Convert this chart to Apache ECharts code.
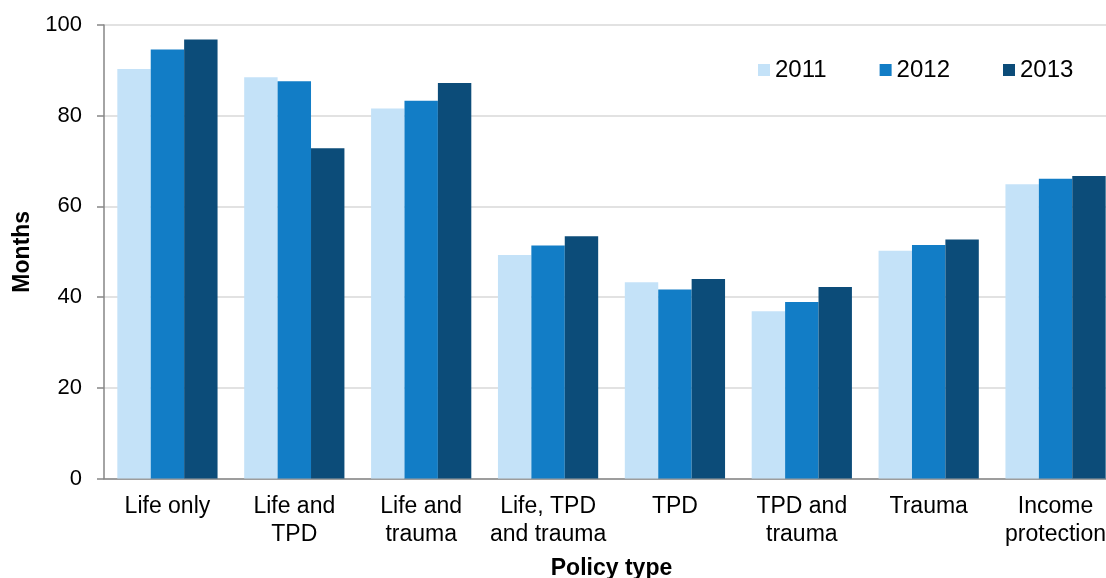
<!DOCTYPE html>
<html>
<head>
<meta charset="utf-8">
<script src="https://cdn.jsdelivr.net/npm/echarts@6/dist/echarts.min.js"></script>
<style>
  html, body { margin: 0; padding: 0; background: #fff; overflow: hidden; }
  #main { width: 1119px; height: 578px; }
</style>
</head>
<body>
<div id="main"></div>
<script>
// policy types on the x axis
var categories = ['Life only', 'Life and\nTPD', 'Life and\ntrauma', 'Life, TPD\nand trauma', 'TPD', 'TPD and\ntrauma', 'Trauma', 'Income\nprotection']
var years = ['2011', '2012', '2013']
var yTicks = [0, 20, 40, 60, 80, 100]

// months
var values2011 = [90.3, 88.5, 81.6, 49.3, 43.3, 36.9, 50.2, 64.9]
var values2012 = [94.6, 87.6, 83.3, 51.4, 41.7, 38.9, 51.5, 66.1]
var values2013 = [96.8, 72.8, 87.2, 53.4, 44.0, 42.2, 52.7, 66.7]

var colors = ['#C4E2F8', '#127DC6', '#0C4C79']
var font = 'Arial, "Liberation Sans", sans-serif'

var chart = echarts.init(document.getElementById('main'))

var seriesData = [values2011, values2012, values2013]
var series = years.map(function (y, i) {
  return {
    name: y,
    type: 'bar',
    data: seriesData[i],
    barGap: '0%',
    barCategoryGap: '21%',
    itemStyle: {color: colors[i]}
  }
})

chart.setOption({
  animation: false,
  color: colors,
  grid: {left: 104, right: 0, top: 25, bottom: 99.5, containLabel: false, outerBoundsMode: 'none'},
  legend: {
    data: years,
    left: 758,
    top: 58,
    padding: 0,
    icon: 'rect',
    itemWidth: 12,
    itemHeight: 12,
    itemGap: 53,
    textStyle: {fontFamily: font, fontSize: 24, color: '#000'}
  },
  xAxis: {
    type: 'category',
    data: categories,
    name: 'Policy type',
    nameLocation: 'middle',
    nameGap: 79,
    nameTextStyle: {fontFamily: font, fontSize: 23, fontWeight: 'bold', color: '#000'},
    axisLine: {lineStyle: {color: '#868686', width: 1.5}},
    axisTick: {length: 6, lineStyle: {color: '#868686', width: 1.5}},
    axisLabel: {fontFamily: font, fontSize: 23, color: '#000', lineHeight: 28, margin: 14, interval: 0}
  },
  yAxis: {
    type: 'value',
    min: yTicks[0],
    max: yTicks[yTicks.length - 1],
    interval: 20,
    name: 'Months',
    nameLocation: 'middle',
    nameGap: 68,
    nameTextStyle: {fontFamily: font, fontSize: 23, fontWeight: 'bold', color: '#000'},
    axisLine: {show: true, lineStyle: {color: '#868686', width: 1.5}},
    axisTick: {show: true, length: 7, lineStyle: {color: '#868686', width: 1.5}},
    axisLabel: {fontFamily: font, fontSize: 22, color: '#000', margin: 22},
    splitLine: {lineStyle: {color: '#D9D9D9', width: 1.5}}
  },
  series: series
})
</script>
</body>
</html>
